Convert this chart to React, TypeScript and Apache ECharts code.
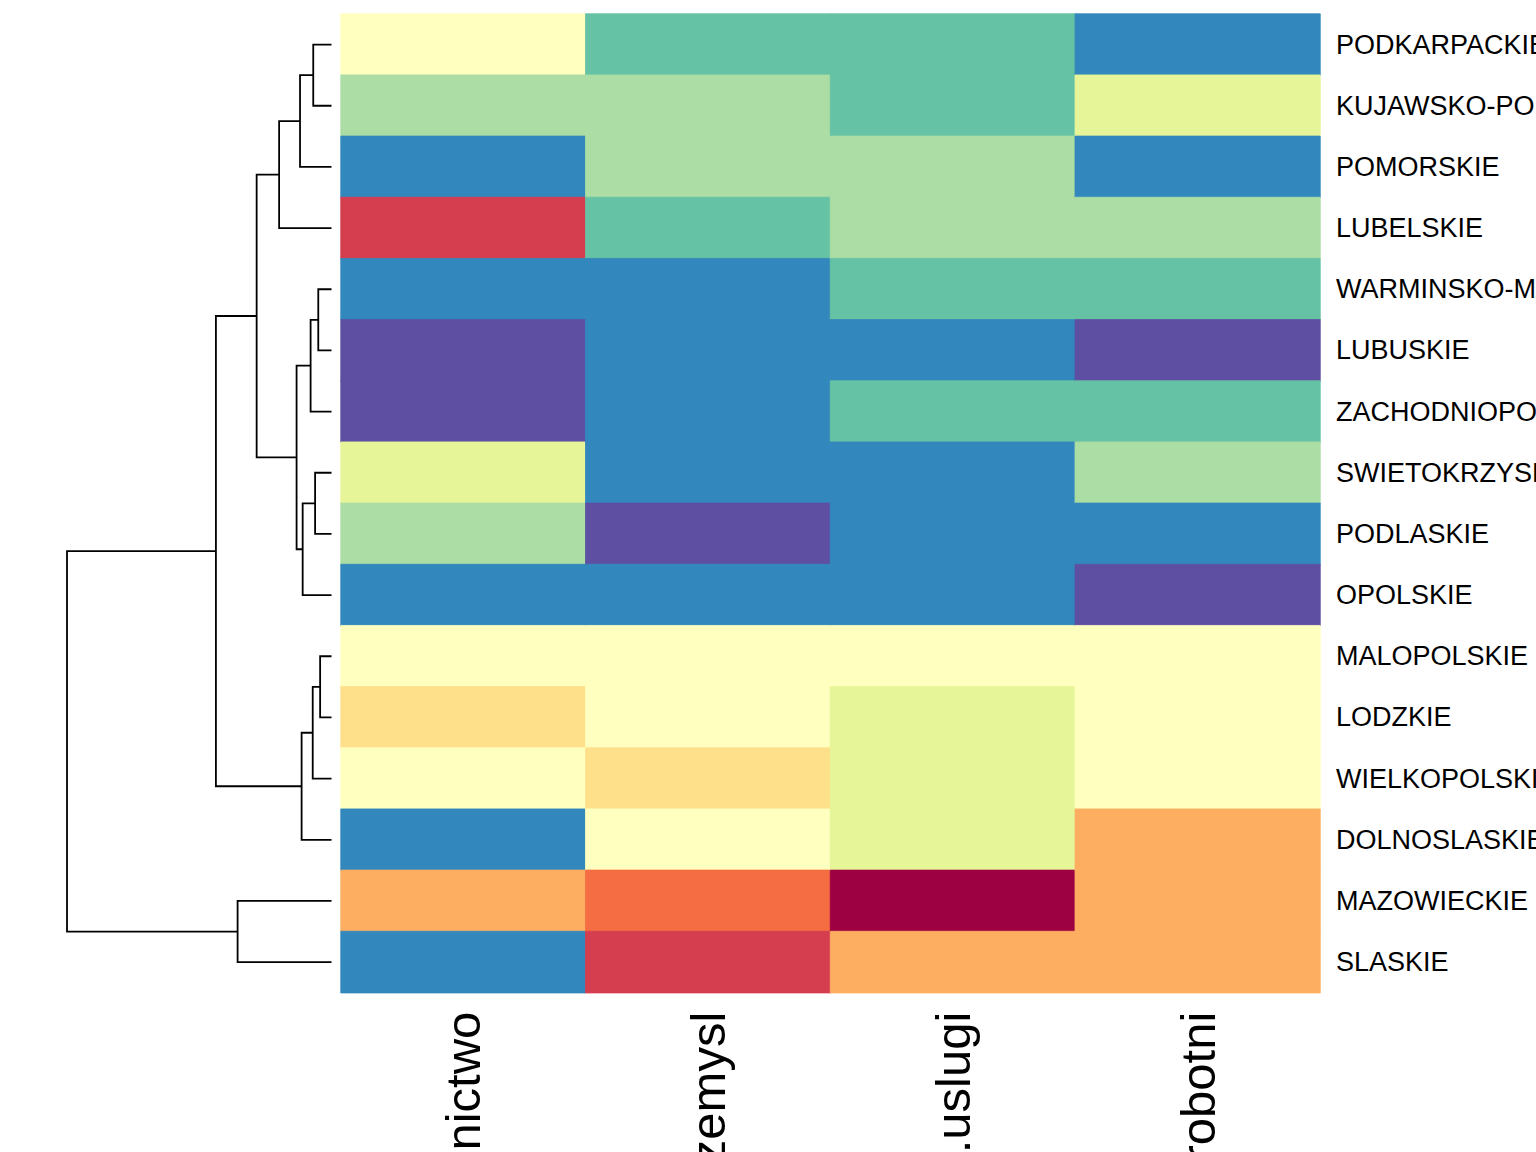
import React, { useEffect, useRef } from "react";
import * as echarts from "echarts";

// Row labels (voivodeships), top to bottom in dendrogram order
const rows = [
  "PODKARPACKIE",
  "KUJAWSKO-POMORSKIE",
  "POMORSKIE",
  "LUBELSKIE",
  "WARMINSKO-MAZURSKIE",
  "LUBUSKIE",
  "ZACHODNIOPOMORSKIE",
  "SWIETOKRZYSKIE",
  "PODLASKIE",
  "OPOLSKIE",
  "MALOPOLSKIE",
  "LODZKIE",
  "WIELKOPOLSKIE",
  "DOLNOSLASKIE",
  "MAZOWIECKIE",
  "SLASKIE",
];

// Column labels
const cols = ["rolnictwo", "przemysl", "rynk.uslugi", "bezrobotni"];

// Binned colour level (0..10) of each cell, per column, rows in order above
const rolnictwo = [5, 7, 9, 1, 9, 10, 10, 6, 7, 9, 5, 4, 5, 9, 3, 9];
const przemysl = [8, 7, 7, 8, 9, 9, 9, 9, 10, 9, 5, 5, 4, 5, 2, 1];
const uslugi = [8, 8, 7, 7, 8, 9, 8, 9, 9, 9, 5, 6, 6, 6, 0, 3];
const bezrobotni = [9, 6, 9, 7, 8, 10, 8, 7, 9, 10, 5, 5, 5, 3, 3, 3];

// Spectral palette (11 classes)
const palette = [
  "#9E0142",
  "#D53E4F",
  "#F46D43",
  "#FDAE61",
  "#FEE08B",
  "#FFFFBF",
  "#E6F598",
  "#ABDDA4",
  "#66C2A5",
  "#3288BD",
  "#5E4FA2",
];

// Row dendrogram merges (hclust style): negative = leaf (1-based row), positive = earlier merge
const mergeA = [-11, -5, -8, -1, 1, 2, 3, 5, 4, 6, 9, 11, -15, 12, 14];
const mergeB = [-12, -6, -9, -2, -13, -7, -10, -14, -3, 7, -4, 10, -16, 8, 13];
const mergeHeight = [0.43, 0.5, 0.62, 0.69, 0.71, 0.79, 1.09, 1.13, 1.19, 1.32, 1.98, 2.83, 3.55, 4.37, 10.0];

function buildDendro() {
  const pos: number[] = [];
  const hgt: number[] = [];
  const get = (n: number) =>
    n < 0 ? { y: -n - 0.5, h: 0 } : { y: pos[n - 1], h: hgt[n - 1] };
  const links: any[] = [];
  for (let i = 0; i < mergeA.length; i++) {
    const a = get(mergeA[i]);
    const b = get(mergeB[i]);
    const h = mergeHeight[i];
    pos.push((a.y + b.y) / 2);
    hgt.push(h);
    links.push({
      coords: [
        [a.h, a.y],
        [h, a.y],
        [h, b.y],
        [b.h, b.y],
      ],
    });
  }
  return links;
}

export default function App() {
  const ref = useRef<HTMLDivElement>(null);
  useEffect(() => {
    if (!ref.current) return;
    const chart = echarts.init(ref.current, null, { renderer: "svg" });
    const columns = [rolnictwo, przemysl, uslugi, bezrobotni];
    const data: any[] = [];
    columns.forEach((arr, ci) =>
      arr.forEach((v, ri) =>
        data.push({
          value: [ci, ri, v],
          itemStyle: { borderColor: palette[v], borderWidth: 0.8 },
        })
      )
    );
    const font = "'Liberation Sans', Arial, Helvetica, sans-serif";
    const top = 14;
    const height = 978.7;
    chart.setOption({
      animation: false,
      backgroundColor: "#ffffff",
      grid: [
        { left: 341, top, width: 979, height, containLabel: false, outerBoundsMode: "none" },
        { left: 67, top, width: 264.5, height, containLabel: false, outerBoundsMode: "none" },
      ],
      xAxis: [
        {
          type: "category",
          gridIndex: 0,
          data: cols,
          position: "bottom",
          axisLine: { show: false },
          axisTick: { show: false },
          splitLine: { show: false },
          axisLabel: {
            rotate: 90,
            fontSize: 49,
            margin: 19,
            color: "#000",
            fontFamily: font,
            interval: 0,
            hideOverlap: false,
          },
        },
        {
          type: "value",
          gridIndex: 1,
          min: 0,
          max: 10,
          inverse: true,
          show: false,
        },
      ],
      yAxis: [
        {
          type: "category",
          gridIndex: 0,
          data: rows,
          inverse: true,
          position: "right",
          axisLine: { show: false },
          axisTick: { show: false },
          splitLine: { show: false },
          axisLabel: {
            fontSize: 27,
            margin: 16,
            color: "#000",
            fontFamily: font,
            interval: 0,
          },
        },
        {
          type: "value",
          gridIndex: 1,
          min: 0,
          max: 16,
          inverse: true,
          show: false,
        },
      ],
      visualMap: {
        type: "piecewise",
        show: false,
        seriesIndex: 0,
        dimension: 2,
        pieces: palette.map((c, i) => ({ value: i, color: c })),
      },
      series: [
        {
          type: "heatmap",
          xAxisIndex: 0,
          yAxisIndex: 0,
          data,
          emphasis: { disabled: true },
        },
        {
          type: "lines",
          coordinateSystem: "cartesian2d",
          xAxisIndex: 1,
          yAxisIndex: 1,
          polyline: true,
          silent: true,
          lineStyle: { color: "#000", width: 1.8, opacity: 1, curveness: 0 },
          data: buildDendro(),
        },
      ],
    });
    return () => chart.dispose();
  }, []);
  return (
    <div
      ref={ref}
      style={{ position: "fixed", left: 0, top: 0, width: 1536, height: 1152, background: "#fff" }}
    />
  );
}
